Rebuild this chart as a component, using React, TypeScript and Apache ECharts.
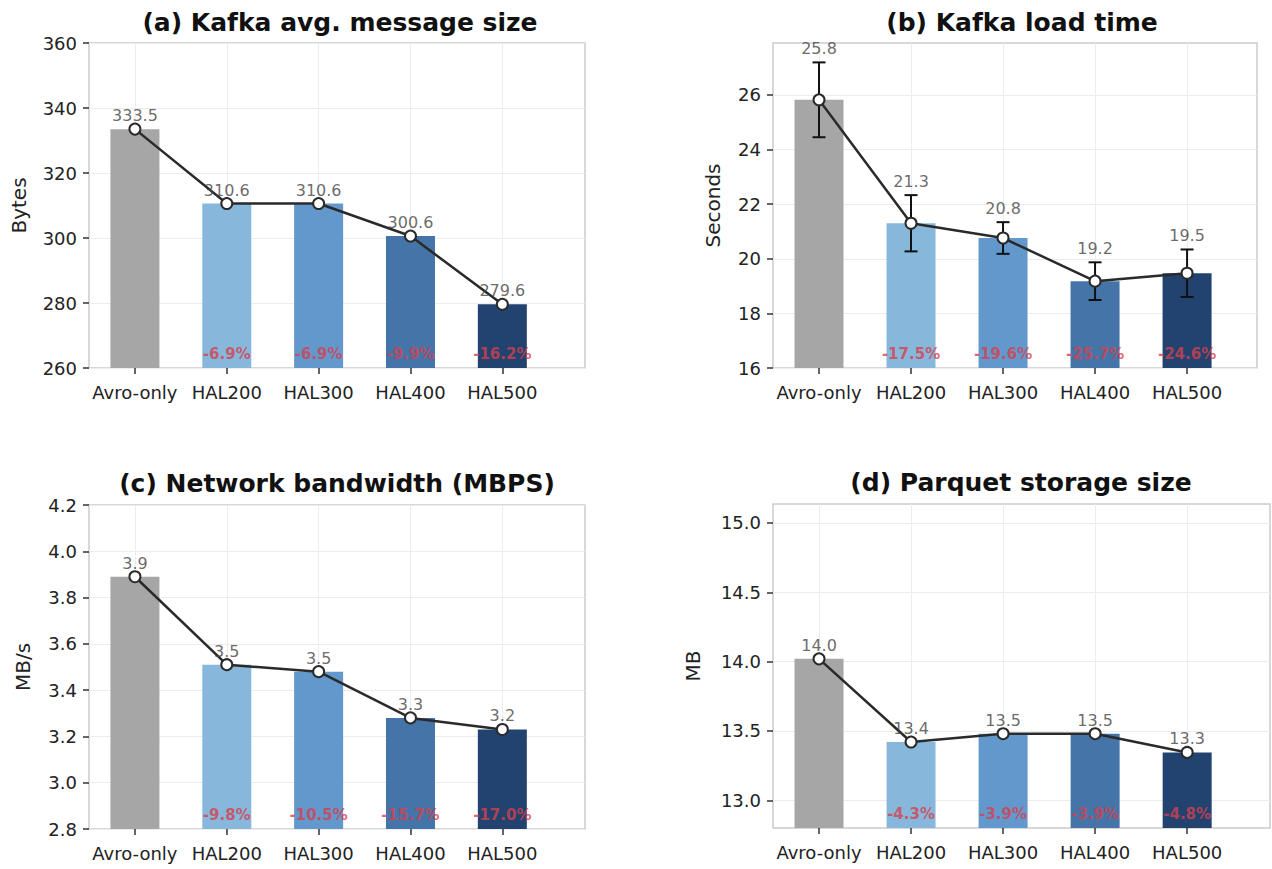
import React, { useEffect, useRef } from "react";
import * as echarts from "echarts";

const categories = ["Avro-only", "HAL200", "HAL300", "HAL400", "HAL500"];
const catIdx = [0, 1, 2, 3, 4];

const msgSize = [333.5, 310.6, 310.6, 300.6, 279.6];
const msgPct = ["", "-6.9%", "-6.9%", "-9.9%", "-16.2%"];
const msgTicks = [260, 280, 300, 320, 340, 360];

const loadTime = [25.82, 21.3, 20.76, 19.18, 19.47];
const loadErr = [1.37, 1.03, 0.58, 0.69, 0.87];
const loadPct = ["", "-17.5%", "-19.6%", "-25.7%", "-24.6%"];
const loadTicks = [16, 18, 20, 22, 24, 26];

const bandwidth = [3.89, 3.51, 3.48, 3.28, 3.23];
const bwPct = ["", "-9.8%", "-10.5%", "-15.7%", "-17.0%"];
const bwTicks = [2.8, 3.0, 3.2, 3.4, 3.6, 3.8, 4.0, 4.2];

const parquet = [14.02, 13.42, 13.48, 13.48, 13.345];
const pqPct = ["", "-4.3%", "-3.9%", "-3.9%", "-4.8%"];
const pqTicks = [13.0, 13.5, 14.0, 14.5, 15.0];

const barColors = ["#a6a6a6", "#88b7dc", "#6398cc", "#4474a8", "#22426f"];
const FONT = "DejaVu Sans";

type Panel = {
  title: string;
  yName: string;
  values: number[];
  errs: number[] | null;
  pct: string[];
  ticks: number[];
  ymin: number;
  ymax: number;
  xmax: number;
  decimals: number;
  grid: { left: number; top: number; width: number; height: number };
  titlePos: [number, number];
  nameGap: number;
};

const panels: Panel[] = [
  {
    title: "(a) Kafka avg. message size",
    yName: "Bytes",
    values: msgSize,
    errs: null,
    pct: msgPct,
    ticks: msgTicks,
    ymin: 260,
    ymax: 360,
    xmax: 4.9,
    decimals: 0,
    grid: { left: 89, top: 43, width: 496, height: 325 },
    titlePos: [340, 22],
    nameGap: 60,
  },
  {
    title: "(b) Kafka load time",
    yName: "Seconds",
    values: loadTime,
    errs: loadErr,
    pct: loadPct,
    ticks: loadTicks,
    ymin: 16,
    ymax: 27.9,
    xmax: 4.76,
    decimals: 0,
    grid: { left: 773, top: 43, width: 484, height: 325 },
    titlePos: [1022, 22],
    nameGap: 50,
  },
  {
    title: "(c) Network bandwidth (MBPS)",
    yName: "MB/s",
    values: bandwidth,
    errs: null,
    pct: bwPct,
    ticks: bwTicks,
    ymin: 2.8,
    ymax: 4.2,
    xmax: 4.9,
    decimals: 1,
    grid: { left: 89, top: 505, width: 496, height: 324 },
    titlePos: [337, 483],
    nameGap: 56,
  },
  {
    title: "(d) Parquet storage size",
    yName: "MB",
    values: parquet,
    errs: null,
    pct: pqPct,
    ticks: pqTicks,
    ymin: 12.8,
    ymax: 15.137,
    xmax: 4.9,
    decimals: 1,
    grid: { left: 773, top: 504, width: 497, height: 324 },
    titlePos: [1021, 482],
    nameGap: 70,
  },
];

function buildOption() {
  const grids: any[] = [];
  const xAxes: any[] = [];
  const yAxes: any[] = [];
  const series: any[] = [];
  const graphics: any[] = [];

  panels.forEach((p, i) => {
    grids.push({
      ...p.grid,
      show: true,
      borderColor: "#cccccc",
      borderWidth: 1.5,
      backgroundColor: "transparent",
      containLabel: false,
      outerBoundsMode: "none",
    });
    xAxes.push({
      type: "value",
      gridIndex: i,
      min: -0.5,
      max: p.xmax,
      axisLine: { show: false, onZero: false },
      axisTick: {
        show: true,
        customValues: catIdx,
        length: 6,
        lineStyle: { color: "#333", width: 1.5 },
      },
      axisLabel: {
        customValues: catIdx,
        formatter: (v: number) => categories[Math.round(v)] ?? "",
        fontSize: 18,
        color: "#222",
        fontFamily: FONT,
        margin: 15,
      },
      splitLine: { show: true, lineStyle: { color: "#ececec", width: 1 } },
    });
    yAxes.push({
      type: "value",
      gridIndex: i,
      min: p.ymin,
      max: p.ymax,
      startValue: p.ymin,
      axisLine: { show: false, onZero: false },
      axisTick: {
        show: true,
        customValues: p.ticks,
        length: 6,
        lineStyle: { color: "#333", width: 1.5 },
      },
      axisLabel: {
        customValues: p.ticks,
        formatter: (v: number) => v.toFixed(p.decimals),
        fontSize: 18,
        color: "#222",
        fontFamily: FONT,
        margin: 12,
      },
      splitLine: { show: true, lineStyle: { color: "#ececec", width: 1 } },
      name: p.yName,
      nameLocation: "middle",
      nameGap: p.nameGap,
      nameTextStyle: { fontSize: 20, color: "#222", fontFamily: FONT },
    });

    series.push({
      type: "bar",
      xAxisIndex: i,
      yAxisIndex: i,
      barWidth: 49,
      clip: true,
      silent: true,
      z: 2,
      data: p.values.map((v, k) => ({
        value: [k, v],
        itemStyle: { color: barColors[k] },
      })),
    });

    if (p.errs) {
      const errs = p.errs;
      series.push({
        type: "custom",
        xAxisIndex: i,
        yAxisIndex: i,
        silent: true,
        z: 3,
        encode: { x: 0, y: 1 },
        data: p.values.map((v, k) => [k, v, errs[k]]),
        renderItem: (params: any, api: any) => {
          const x = api.value(0);
          const v = api.value(1);
          const e = api.value(2);
          const top = api.coord([x, v + e]);
          const bot = api.coord([x, v - e]);
          const cap = 6.5;
          const st = { stroke: "#111", lineWidth: 2 };
          return {
            type: "group",
            children: [
              { type: "line", shape: { x1: top[0], y1: top[1], x2: bot[0], y2: bot[1] }, style: st },
              { type: "line", shape: { x1: top[0] - cap, y1: top[1], x2: top[0] + cap, y2: top[1] }, style: st },
              { type: "line", shape: { x1: bot[0] - cap, y1: bot[1], x2: bot[0] + cap, y2: bot[1] }, style: st },
            ],
          };
        },
      });
    }

    series.push({
      type: "line",
      xAxisIndex: i,
      yAxisIndex: i,
      silent: true,
      z: 4,
      data: p.values.map((v, k) => [k, v]),
      lineStyle: { color: "#2a2a2a", width: 2.5 },
      symbol: "circle",
      symbolSize: 11,
      showSymbol: true,
      itemStyle: { color: "#ffffff", borderColor: "#2a2a2a", borderWidth: 2 },
    });

    series.push({
      type: "scatter",
      xAxisIndex: i,
      yAxisIndex: i,
      silent: true,
      z: 5,
      symbolSize: 1,
      itemStyle: { color: "transparent" },
      data: p.values.map((v, k) => ({
        value: [k, v + (p.errs ? p.errs[k] : 0)],
        label: {
          show: true,
          position: "top",
          distance: 5,
          formatter: v.toFixed(1),
          fontSize: 16,
          color: "#444",
          fontFamily: FONT,
        },
      })),
    });

    series.push({
      type: "scatter",
      xAxisIndex: i,
      yAxisIndex: i,
      silent: true,
      z: 6,
      symbolSize: 1,
      itemStyle: { color: "transparent" },
      data: p.pct
        .map((t, k) => ({ t, k }))
        .filter((d) => d.t !== "")
        .map((d) => ({
          value: [d.k, p.ymin],
          label: {
            show: true,
            position: "top",
            distance: 6,
            formatter: d.t,
            fontSize: 15,
            fontWeight: "bold",
            color: "#d6404e",
            fontFamily: FONT,
          },
        })),
    });

    graphics.push({
      type: "text",
      x: p.titlePos[0],
      y: p.titlePos[1],
      silent: true,
      style: {
        text: p.title,
        font: `bold 25px "${FONT}"`,
        fill: "#111",
        align: "center",
        verticalAlign: "middle",
      },
    });
  });

  return {
    animation: false,
    backgroundColor: "#ffffff",
    grid: grids,
    xAxis: xAxes,
    yAxis: yAxes,
    series,
    graphic: graphics,
  };
}

export default function App() {
  const ref = useRef<HTMLDivElement>(null);
  useEffect(() => {
    if (!ref.current) return;
    const chart = echarts.init(ref.current, null, { renderer: "svg" });
    chart.setOption(buildOption() as any);
    return () => chart.dispose();
  }, []);
  return (
    <div
      ref={ref}
      style={{ position: "fixed", left: 0, top: 0, width: 1272, height: 869, background: "#fff" }}
    />
  );
}
